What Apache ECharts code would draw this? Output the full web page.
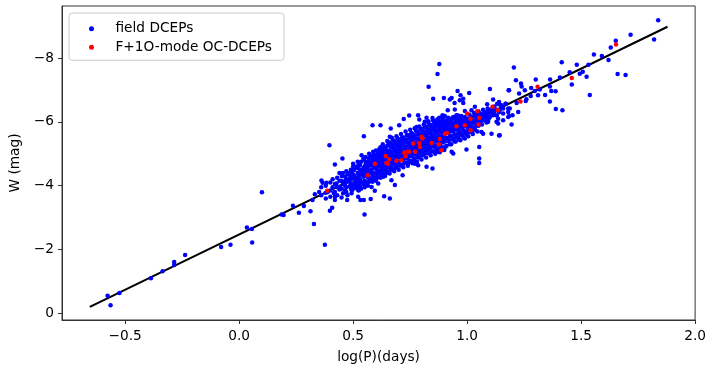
<!DOCTYPE html>
<html>
<head>
<meta charset="utf-8">
<script src="https://cdn.jsdelivr.net/npm/echarts@6/dist/echarts.min.js"></script>
<style>
  html, body { margin: 0; padding: 0; background: #fff; }
  #chart { width: 709px; height: 371px; }
</style>
</head>
<body>
<div id="chart"></div>
<script>
// field DCEPs, [log(P), W] -- sparse ones read point by point
const fieldSparse = [
  [-0.577,-0.55],[-0.564,-0.25],[-0.525,-0.64],[-0.387,-1.10],[-0.336,-1.32],[-0.285,-1.61],[-0.285,-1.51],
  [-0.237,-1.83],[-0.079,-2.08],[-0.038,-2.15],[0.057,-2.22],[0.100,-3.79],[0.034,-2.69],[0.056,-2.64],
  [0.186,-3.10],[0.195,-3.08],[0.236,-3.37],[0.262,-3.15],[0.284,-3.36],[0.313,-3.20],[0.328,-2.80],
  [0.322,-3.55],[0.332,-3.73],[0.351,-3.80],[0.361,-4.16],[0.366,-4.09],[0.383,-4.09],[0.388,-3.80],
  [0.398,-3.21],[0.408,-3.31],[0.396,-5.27],[0.420,-4.66],[0.415,-3.77],[0.420,-3.65],[0.427,-4.07],
  [0.442,-3.96],[0.449,-3.63],[0.453,-4.85],[0.456,-3.76],[0.464,-4.12],[0.474,-3.55],[0.478,-4.38],
  [0.486,-4.23],[0.493,-3.76],[0.500,-4.69],[0.503,-4.49],[0.507,-4.23],[0.515,-4.17],[0.522,-3.86],
  [0.522,-3.65],[0.532,-3.55],[0.537,-4.95],[0.541,-4.49],[0.547,-5.55],[0.547,-3.55],[0.550,-3.10],
  [0.566,-4.64],[0.570,-4.85],[0.573,-4.17],[0.581,-3.96],[0.585,-5.89],[0.588,-5.06],[0.595,-3.84],
  [0.577,-3.58],[0.605,-4.38],[0.610,-4.07],[0.617,-5.01],[0.620,-5.89],[0.625,-4.69],[0.632,-4.28],
  [0.636,-3.67],[0.661,-5.53],[0.665,-5.79],[0.661,-3.60],[0.668,-4.17],[0.675,-4.49],[0.683,-4.02],
  [0.697,-4.90],[0.702,-5.89],[0.705,-5.32],[0.717,-4.33],[0.741,-4.69],[0.749,-5.58],[0.756,-5.37],
  [0.771,-4.69],[0.778,-5.84],[0.785,-4.64],[0.807,-5.01],[0.814,-6.00],[0.822,-4.59],[0.829,-5.21],
  [0.848,-4.54],[0.858,-5.84],[0.866,-5.06],[0.895,-5.53],[0.917,-5.74],[0.910,-6.00],[0.932,-5.06],
  [0.939,-5.01],[0.961,-5.63],[0.975,-5.79],[0.982,-6.00],[0.997,-5.13],[1.012,-5.79],[1.041,-5.95],
  [1.053,-5.21],[1.053,-4.85],[1.053,-4.71],[1.063,-5.68],[1.070,-5.63],[1.092,-6.00],[1.107,-5.63],
  [1.136,-5.95],[1.140,-5.57],[0.376,-2.15],
  [0.878,-7.81],[0.870,-7.50],[0.831,-7.10],[0.851,-6.72],[0.898,-6.75],[0.932,-6.75],[0.924,-6.70],
  [0.945,-6.59],[0.958,-6.97],[0.971,-6.83],[0.983,-6.72],[0.968,-6.68],[0.983,-6.59],[1.009,-6.90],
  [0.915,-6.36],[0.946,-6.39],[0.990,-6.34],[1.100,-7.03],[1.114,-6.70],[1.182,-6.99],[0.722,-6.09],
  [0.746,-6.20],[0.785,-6.21],[0.790,-6.07],[0.822,-6.13],[0.829,-6.02],[0.848,-6.12],[0.858,-6.03],
  [0.878,-6.13],[0.892,-6.21],[0.902,-6.18],[0.917,-6.13],[0.936,-6.13],[0.953,-6.21],[0.961,-6.10],
  [0.975,-6.18],[1.034,-6.47],[1.019,-6.36],[1.041,-6.26],[1.070,-6.21],[1.092,-6.36],[1.088,-6.55],
  [1.117,-6.36],[1.132,-6.57],[1.140,-6.62],[1.151,-6.47],[1.158,-6.26],[1.170,-6.57],[1.180,-6.42],
  [1.114,-6.21],[1.136,-6.10],[1.096,-6.15],[1.129,-6.00],[1.158,-6.05],[1.180,-6.15],
  [1.838,-9.18],[1.820,-8.58],[1.717,-8.73],[1.652,-8.54],[1.630,-8.33],[1.620,-7.94],[1.660,-7.50],
  [1.695,-7.47],[1.591,-8.06],[1.556,-8.11],[1.532,-7.79],[1.481,-7.79],[1.450,-7.55],[1.459,-7.17],
  [1.507,-7.57],[1.494,-7.51],[1.524,-7.41],[1.415,-7.87],[1.407,-7.39],[1.538,-6.84],[1.364,-7.33],
  [1.388,-6.96],[1.369,-6.97],[1.363,-7.11],[1.363,-6.64],[1.389,-6.40],[1.418,-6.36],[1.342,-6.84],
  [1.301,-7.33],[1.319,-7.01],[1.311,-6.83],[1.297,-6.97],[1.281,-7.06],[1.279,-6.81],[1.260,-6.71],
  [1.253,-6.99],[1.239,-7.11],[1.236,-7.20],[1.214,-7.30],[1.205,-7.70],[1.184,-6.99],[1.228,-6.89],
  [1.257,-6.65],[1.217,-6.59],[1.168,-6.57],[1.151,-6.52],[1.158,-6.42],[1.187,-6.42],[1.180,-6.31],
  [1.224,-6.31],[1.199,-6.21],[1.184,-6.18],[1.143,-6.36],[1.195,-5.92],[1.143,-5.58]
];

// field DCEPs in the crowded band (estimated, the dots overlap there)
const fieldCore = [
  [0.36,-3.95],[0.36,-3.70],[0.38,-4.00],[0.38,-3.78],[0.38,-3.60],[0.40,-4.10],[0.40,-3.85],[0.40,-3.65],
  [0.41,-4.20],[0.41,-3.95],[0.42,-4.05],[0.42,-3.80],[0.42,-3.55],[0.43,-4.25],[0.43,-3.95],[0.43,-3.70],
  [0.44,-4.15],[0.44,-3.88],[0.44,-4.40],
  [0.45,-4.30],[0.45,-3.90],[0.45,-4.15],[0.47,-4.45],[0.47,-3.95],[0.47,-4.20],[0.47,-3.80],
  [0.49,-4.50],[0.49,-4.05],[0.49,-4.30],[0.49,-3.90],[0.50,-4.60],[0.50,-4.35],[0.50,-4.00],
  [0.52,-4.55],[0.52,-4.10],[0.52,-4.40],[0.52,-3.95],[0.52,-4.75],[0.53,-4.65],[0.53,-4.20],[0.53,-4.50],[0.53,-3.98],
  [0.55,-4.80],[0.55,-4.45],[0.55,-4.15],[0.55,-4.60],[0.55,-3.95],[0.56,-4.70],[0.56,-4.30],[0.56,-4.55],[0.56,-4.05],
  [0.57,-4.85],[0.57,-4.62],[0.57,-4.38],[0.57,-4.12],[0.57,-5.00],[0.58,-4.75],[0.58,-4.50],[0.58,-4.25],[0.58,-4.92],
  [0.59,-4.98],[0.59,-4.68],[0.59,-4.40],[0.59,-4.20],[0.59,-4.80],[0.60,-4.85],[0.60,-4.60],[0.60,-4.35],[0.60,-5.10],[0.60,-4.15],
  [0.61,-5.05],[0.61,-4.75],[0.61,-4.48],[0.61,-4.30],[0.61,-4.90],[0.62,-4.95],[0.62,-4.70],[0.62,-4.45],[0.62,-5.20],[0.62,-4.25],
  [0.63,-5.10],[0.63,-4.85],[0.63,-4.60],[0.63,-4.40],[0.63,-5.30],[0.64,-5.00],[0.64,-4.78],[0.64,-4.52],[0.64,-4.30],[0.64,-5.20],
  [0.65,-5.25],[0.65,-4.95],[0.65,-4.70],[0.65,-4.45],[0.65,-5.40],[0.66,-5.10],[0.66,-4.88],[0.66,-4.62],[0.66,-4.38],[0.66,-5.35],
  [0.67,-5.30],[0.67,-5.05],[0.67,-4.80],[0.67,-4.55],[0.67,-5.50],[0.68,-5.15],[0.68,-4.92],[0.68,-4.68],[0.68,-4.45],[0.68,-5.40],
  [0.69,-5.35],[0.69,-5.10],[0.69,-4.85],[0.69,-4.60],[0.69,-5.55],[0.70,-5.25],[0.70,-5.00],[0.70,-4.75],[0.70,-4.50],[0.70,-5.45],
  [0.71,-5.40],[0.71,-5.18],[0.71,-4.92],[0.71,-4.65],[0.71,-5.62],[0.72,-5.30],[0.72,-5.05],[0.72,-4.82],[0.72,-4.58],[0.72,-5.50],
  [0.73,-5.45],[0.73,-5.22],[0.73,-4.98],[0.73,-4.72],[0.73,-5.70],[0.74,-5.35],[0.74,-5.12],[0.74,-4.88],[0.74,-4.62],[0.74,-5.58],
  [0.75,-5.50],[0.75,-5.28],[0.75,-5.02],[0.75,-4.78],[0.75,-5.75],[0.76,-5.40],[0.76,-5.18],[0.76,-4.95],[0.76,-4.70],[0.76,-5.62],
  [0.77,-5.58],[0.77,-5.35],[0.77,-5.08],[0.77,-4.85],[0.77,-5.80],[0.78,-5.48],[0.78,-5.25],[0.78,-5.00],[0.78,-4.75],[0.78,-5.70],
  [0.79,-5.62],[0.79,-5.40],[0.79,-5.15],[0.79,-4.90],[0.79,-5.85],[0.80,-5.55],[0.80,-5.32],[0.80,-5.08],[0.80,-4.82],[0.80,-5.78],
  [0.81,-5.70],[0.81,-5.45],[0.81,-5.20],[0.81,-4.98],[0.81,-5.92],[0.82,-5.60],[0.82,-5.38],[0.82,-5.12],[0.82,-4.88],[0.82,-5.85],
  [0.83,-5.75],[0.83,-5.52],[0.83,-5.28],[0.83,-5.02],[0.83,-5.98],[0.84,-5.68],[0.84,-5.45],[0.84,-5.20],[0.84,-4.95],[0.84,-5.90],
  [0.85,-5.82],[0.85,-5.58],[0.85,-5.32],[0.85,-5.08],[0.85,-6.05],[0.86,-5.72],[0.86,-5.50],[0.86,-5.25],[0.86,-5.00],[0.86,-5.95],
  [0.87,-5.88],[0.87,-5.65],[0.87,-5.40],[0.87,-5.15],[0.87,-6.08],[0.88,-5.80],[0.88,-5.55],[0.88,-5.30],[0.88,-5.05],[0.88,-6.00],
  [0.89,-5.92],[0.89,-5.70],[0.89,-5.45],[0.89,-5.20],[0.89,-6.12],[0.90,-5.85],[0.90,-5.62],[0.90,-5.38],[0.90,-5.12],[0.90,-6.05],
  [0.91,-5.98],[0.91,-5.75],[0.91,-5.50],[0.91,-5.25],[0.92,-5.90],[0.92,-5.68],[0.92,-5.42],[0.92,-6.10],
  [0.93,-6.02],[0.93,-5.80],[0.93,-5.55],[0.93,-5.30],[0.94,-5.95],[0.94,-5.72],[0.94,-5.48],[0.94,-6.15],
  [0.95,-6.05],[0.95,-5.85],[0.95,-5.60],[0.95,-5.38],[0.96,-6.00],[0.96,-5.78],[0.96,-5.52],[0.96,-6.20],
  [0.97,-6.10],[0.97,-5.90],[0.97,-5.65],[0.97,-5.42],[0.98,-6.05],[0.98,-5.82],[0.98,-5.60],
  [0.99,-6.15],[0.99,-5.95],[0.99,-5.70],[0.99,-5.48],[1.00,-6.10],[1.00,-5.88],[1.00,-5.65],
  [1.01,-6.22],[1.01,-6.00],[1.01,-5.78],[1.02,-6.15],[1.02,-5.92],[1.02,-5.70],[1.03,-6.28],[1.03,-6.05],[1.03,-5.82],
  [1.04,-6.20],[1.04,-5.98],[1.05,-6.32],[1.05,-6.10],[1.05,-5.88],[1.06,-6.25],[1.06,-6.02],[1.07,-6.38],[1.07,-6.15],
  [1.08,-6.30],[1.08,-6.08],[1.09,-6.42],[1.09,-6.20],[1.10,-6.35],[1.10,-6.15],[1.12,-6.48],[1.12,-6.25],[1.14,-6.55],[1.14,-6.30]
];

// more of the crowded band, between the ones above
const fieldCore2 = [
  [0.455,-4.05],[0.455,-4.40],[0.465,-3.85],[0.465,-4.28],[0.465,-4.00],[0.475,-4.12],[0.475,-4.35],[0.475,-3.70],
  [0.485,-3.98],[0.485,-4.40],[0.485,-4.15],[0.495,-4.22],[0.495,-3.85],[0.495,-4.45],
  [0.505,-4.10],[0.505,-4.50],[0.505,-4.30],[0.505,-3.92],[0.515,-4.25],[0.515,-4.60],[0.515,-4.00],
  [0.525,-4.32],[0.525,-4.62],[0.525,-4.05],[0.525,-3.85],[0.535,-4.40],[0.535,-4.12],[0.535,-4.75],[0.535,-3.90],
  [0.545,-4.55],[0.545,-4.28],[0.545,-4.05],[0.545,-4.85],[0.555,-4.68],[0.555,-4.35],[0.555,-4.10],[0.555,-4.90],
  [0.565,-4.50],[0.565,-4.25],[0.565,-4.75],[0.565,-4.00],[0.575,-4.65],[0.575,-4.42],[0.575,-4.20],[0.575,-4.90],
  [0.585,-4.62],[0.585,-4.35],[0.585,-4.85],[0.585,-4.12],[0.595,-4.55],[0.595,-4.30],[0.595,-4.92],[0.595,-4.75],
  [0.605,-4.72],[0.605,-4.48],[0.605,-4.25],[0.605,-4.98],[0.615,-4.62],[0.615,-4.38],[0.615,-4.85],[0.615,-5.15],
  [0.625,-4.82],[0.625,-4.55],[0.625,-4.35],[0.625,-5.05],[0.635,-4.72],[0.635,-4.50],[0.635,-4.95],[0.635,-5.18],
  [0.645,-4.88],[0.645,-4.62],[0.645,-4.40],[0.645,-5.12],[0.655,-4.82],[0.655,-4.58],[0.655,-5.05],[0.655,-5.30],
  [0.665,-4.98],[0.665,-4.72],[0.665,-4.50],[0.665,-5.22],[0.675,-4.92],[0.675,-4.68],[0.675,-5.18],[0.675,-5.42],
  [0.685,-5.05],[0.685,-4.78],[0.685,-4.55],[0.685,-5.28],[0.695,-4.98],[0.695,-4.72],[0.695,-5.22],[0.695,-5.48],
  [0.705,-5.12],[0.705,-4.88],[0.705,-4.62],[0.705,-5.35],[0.715,-5.05],[0.715,-4.80],[0.715,-5.30],[0.715,-5.52],
  [0.725,-5.18],[0.725,-4.92],[0.725,-4.70],[0.725,-5.40],[0.735,-5.10],[0.735,-4.85],[0.735,-5.35],[0.735,-5.58],
  [0.745,-5.25],[0.745,-5.00],[0.745,-4.75],[0.745,-5.48],[0.755,-5.18],[0.755,-4.92],[0.755,-5.40],[0.755,-5.65],
  [0.765,-5.30],[0.765,-5.05],[0.765,-4.80],[0.765,-5.52],[0.775,-5.22],[0.775,-4.98],[0.775,-5.48],[0.775,-5.72],
  [0.785,-5.35],[0.785,-5.10],[0.785,-4.88],[0.785,-5.60],[0.795,-5.28],[0.795,-5.02],[0.795,-5.52],[0.795,-5.75],
  [0.805,-5.42],[0.805,-5.18],[0.805,-4.95],[0.805,-5.65],[0.815,-5.35],[0.815,-5.10],[0.815,-5.58],[0.815,-5.82],
  [0.825,-5.48],[0.825,-5.25],[0.825,-5.02],[0.825,-5.72],[0.835,-5.40],[0.835,-5.15],[0.835,-5.65],[0.835,-5.88],
  [0.845,-5.55],[0.845,-5.30],[0.845,-5.08],[0.845,-5.78],[0.855,-5.48],[0.855,-5.22],[0.855,-5.70],[0.855,-5.95],
  [0.865,-5.62],[0.865,-5.38],[0.865,-5.12],[0.865,-5.85],[0.875,-5.52],[0.875,-5.28],[0.875,-5.75],[0.875,-5.98],
  [0.885,-5.68],[0.885,-5.42],[0.885,-5.18],[0.885,-5.90],[0.895,-5.60],[0.895,-5.35],[0.895,-5.80],[0.895,-6.02],
  [0.905,-5.72],[0.905,-5.48],[0.905,-5.22],[0.905,-5.95],[0.915,-5.65],[0.915,-5.40],[0.915,-5.85],[0.915,-6.05],
  [0.925,-5.78],[0.925,-5.55],[0.925,-5.30],[0.925,-6.00],[0.935,-5.70],[0.935,-5.45],[0.935,-5.92],[0.935,-6.10],
  [0.945,-5.82],[0.945,-5.60],[0.945,-5.38],[0.955,-5.75],[0.955,-5.52],[0.955,-5.98],[0.955,-6.12],
  [0.965,-5.88],[0.965,-5.68],[0.965,-5.45],[0.975,-5.80],[0.975,-5.58],[0.975,-6.02],
  [0.985,-5.92],[0.985,-5.72],[0.985,-5.50],[0.995,-5.85],[0.995,-5.62],[0.995,-6.05],
  [1.005,-5.98],[1.005,-5.75],[1.005,-5.55],[1.015,-5.90],[1.015,-5.68],[1.015,-6.10],
  [1.025,-6.02],[1.025,-5.80],[1.025,-5.62],[1.035,-5.95],[1.035,-5.75],[1.035,-6.18],
  [1.045,-6.08],[1.045,-5.88],[1.045,-5.70],[1.055,-6.00],[1.055,-6.22],[1.065,-6.12],[1.065,-5.92],
  [1.075,-6.05],[1.075,-6.28],[1.085,-6.18],[1.085,-5.98],[1.095,-6.10],[1.095,-6.30],
  [1.11,-6.22],[1.11,-6.40],[1.13,-6.38],[1.13,-6.20]
];

// F+1O-mode OC-DCEPs
const ocPoints = [
  [0.386,-3.84],[0.564,-4.33],[0.595,-4.69],[0.643,-4.93],[0.646,-4.71],[0.653,-4.69],[0.658,-4.83],[0.690,-4.78],
  [0.712,-4.80],[0.724,-5.03],[0.730,-4.92],[0.737,-5.06],[0.746,-5.06],[0.763,-5.32],[0.772,-5.06],[0.790,-5.34],
  [0.793,-5.21],[0.800,-5.53],[0.804,-5.48],[0.845,-5.34],[0.876,-5.30],[0.880,-5.46],[0.888,-5.11],[0.902,-5.63],
  [0.912,-5.65],[0.953,-5.86],[0.990,-5.89],[1.015,-5.74],[1.050,-5.92],[1.000,-6.26],[1.015,-6.10],[1.044,-6.33],
  [1.053,-6.13],[1.111,-6.47],[1.135,-6.36],[1.234,-6.64],[1.309,-7.10],[1.459,-7.37],[1.653,-8.42]
];

// fitted PW relation, end points
const fitLogP = [-0.655, 1.879];
const fitW = [-0.20, -8.98];

const xTicks = [-0.5, 0.0, 0.5, 1.0, 1.5, 2.0];
const yTicks = [0, -2, -4, -6, -8];

const minus = (s) => s.replace("-", "\u2212");
const font = "DejaVu Sans";
const fs = 13.7;

const chart = echarts.init(document.getElementById("chart"));
chart.setOption({
  animation: false,
  backgroundColor: "#fff",
  grid: {
    left: 62, right: 13, top: 6, bottom: 51,
    show: true, borderColor: "#333", borderWidth: 1, backgroundColor: "transparent",
  },
  legend: {
    left: 69, top: 13,
    orient: "vertical",
    data: ["field DCEPs", "F+1O-mode OC-DCEPs"],
    icon: "circle",
    itemWidth: 36, itemHeight: 5, itemGap: 2.6,
    padding: [7.7, 12, 5, 20],
    borderColor: "#ccc", borderWidth: 1, borderRadius: 3,
    backgroundColor: "rgba(255,255,255,0.8)",
    textStyle: { fontFamily: font, fontSize: fs, color: "#000", lineHeight: 16, padding: [0, 0, 0, 1] },
  },
  xAxis: {
    type: "value",
    min: -0.777, max: 2.0,
    name: "log(P)(days)", nameLocation: "middle", nameGap: 30,
    nameTextStyle: { fontFamily: font, fontSize: fs, color: "#000" },
    axisLine: { show: true, onZero: false, lineStyle: { color: "#333", width: 1 } },
    axisTick: { show: true, length: 4, inside: false, customValues: xTicks, lineStyle: { color: "#333" } },
    axisLabel: {
      customValues: xTicks, margin: 9,
      fontFamily: font, fontSize: fs, color: "#000",
      formatter: (v) => minus(v.toFixed(1)),
    },
    splitLine: { show: false },
  },
  yAxis: {
    type: "value",
    inverse: true,
    min: -9.63, max: 0.21,
    name: "W (mag)", nameLocation: "middle", nameGap: 36, nameRotate: 90,
    nameTextStyle: { fontFamily: font, fontSize: fs, color: "#000" },
    axisLine: { show: true, onZero: false, lineStyle: { color: "#333", width: 1 } },
    axisTick: { show: true, length: 4, customValues: yTicks, lineStyle: { color: "#333" } },
    axisLabel: {
      customValues: yTicks, margin: 8,
      fontFamily: font, fontSize: fs, color: "#000",
      formatter: (v) => minus(String(v)),
    },
    splitLine: { show: false },
  },
  series: [
    {
      name: "fit",
      type: "line",
      data: fitLogP.map((x, i) => [x, fitW[i]]),
      showSymbol: false,
      lineStyle: { color: "#000", width: 2 },
      z: 1,
    },
    {
      name: "field DCEPs",
      type: "scatter",
      data: fieldSparse.concat(fieldCore, fieldCore2),
      symbolSize: 4.5,
      itemStyle: { color: "#0000ff", opacity: 1 },
      z: 2,
    },
    {
      name: "F+1O-mode OC-DCEPs",
      type: "scatter",
      data: ocPoints,
      symbolSize: 4.5,
      itemStyle: { color: "#ff0000", opacity: 1 },
      z: 3,
    },
  ],
});
</script>
</body>
</html>
